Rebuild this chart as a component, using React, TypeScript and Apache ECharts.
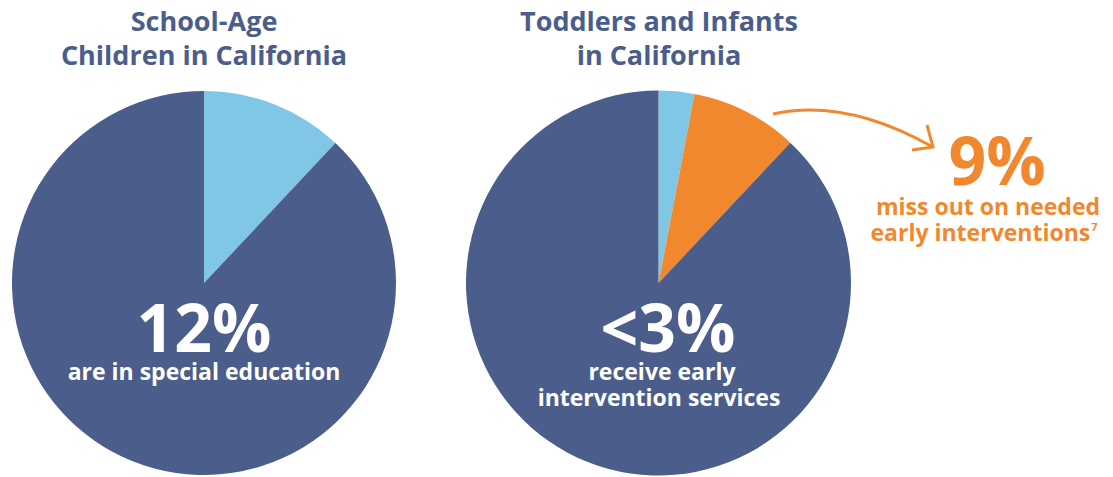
import React, { useEffect, useRef } from "react";
import * as echarts from "echarts";

const schoolCategories = ["In special education", "Not in special education"];
const schoolValues = [12, 88];
const toddlerCategories = [
  "Receive early intervention services",
  "Miss out on needed early interventions",
  "Others",
];
const toddlerValues = [3, 9, 88];

const schoolTitle = ["School-Age", "Children in California"];
const toddlerTitle = ["Toddlers and Infants", "in California"];
const schoolBig = "12%";
const schoolSub = ["are in special education"];
const toddlerBig = "<3%";
const toddlerSub = ["receive early", "intervention services"];
const missBig = "9%";
const missSub = ["miss out on needed", "early interventions"];
const footnote = "7";

const DARK = "#4B5E8B";
const LIGHT = "#80C6E5";
const ORANGE = "#F1882D";
const FONT = "'Open Sans', sans-serif";

export default function App() {
  const ref = useRef<HTMLDivElement>(null);
  useEffect(() => {
    if (!ref.current) return;
    const chart = echarts.init(ref.current, null, { renderer: "svg" });
    const txt = (
      text: string,
      x: number,
      y: number,
      size: number,
      color: string,
      lh: number
    ) => ({
      type: "text",
      x,
      y,
      z: 100,
      silent: true,
      style: {
        text,
        fill: color,
        fontFamily: FONT,
        fontWeight: 700,
        fontSize: size,
        lineHeight: lh,
        align: "center",
        verticalAlign: "middle",
      },
    });
    chart.setOption({
      animation: false,
      backgroundColor: "#ffffff",
      series: [
        {
          type: "pie",
          center: [204, 283],
          radius: [0, 192],
          startAngle: 90,
          clockwise: true,
          silent: true,
          label: { show: false },
          labelLine: { show: false },
          itemStyle: { borderWidth: 0 },
          data: schoolCategories.map((name, i) => ({
            name,
            value: schoolValues[i],
            itemStyle: { color: [LIGHT, DARK][i] },
          })),
        },
        {
          type: "pie",
          center: [658.5, 283],
          radius: [0, 192.5],
          startAngle: 90,
          clockwise: true,
          silent: true,
          label: { show: false },
          labelLine: { show: false },
          itemStyle: { borderWidth: 0 },
          data: toddlerCategories.map((name, i) => ({
            name,
            value: toddlerValues[i],
            itemStyle: { color: [LIGHT, ORANGE, DARK][i] },
          })),
        },
      ],
      graphic: [
        txt(schoolTitle[0], 204, 20, 27, DARK, 28),
        txt(schoolTitle[1], 204, 54, 27, DARK, 28),
        txt(toddlerTitle[0], 659, 20, 27, DARK, 28),
        txt(toddlerTitle[1], 659, 54, 27, DARK, 28),
        txt(schoolBig, 204, 326, 66, "#ffffff", 52),
        txt(schoolSub[0], 204, 371, 23, "#ffffff", 22),
        txt(toddlerBig, 668, 326, 66, "#ffffff", 52),
        txt(toddlerSub[0], 662, 371, 23, "#ffffff", 22),
        txt(toddlerSub[1], 659, 397, 23, "#ffffff", 22),
        txt(missBig, 997, 159, 66, ORANGE, 50),
        txt(missSub[0], 988, 206, 23, ORANGE, 22),
        {
          type: "text",
          x: 984,
          y: 232,
          z: 100,
          silent: true,
          style: {
            text: `{a|${missSub[1]}}{s|${footnote}}`,
            align: "center",
            verticalAlign: "middle",
            rich: {
              a: { fontFamily: FONT, fontWeight: 700, fontSize: 23, lineHeight: 22, fill: ORANGE, color: ORANGE },
              s: {
                fontFamily: FONT,
                fontWeight: 700,
                fontSize: 11,
                lineHeight: 12,
                fill: ORANGE,
                color: ORANGE,
                verticalAlign: "top",
                padding: [0, 0, 0, 1],
              },
            },
          },
        },
        {
          type: "bezierCurve",
          z: 100,
          silent: true,
          shape: { x1: 773, y1: 114, cpx1: 845, cpy1: 98, x2: 931, y2: 146 },
          style: { stroke: ORANGE, lineWidth: 3, fill: "none" },
        },
        {
          type: "polyline",
          z: 100,
          silent: true,
          shape: { points: [[927, 125], [933, 147], [912, 150]] },
          style: { stroke: ORANGE, lineWidth: 3, fill: "none", lineJoin: "miter" },
        },
      ],
    });
    return () => chart.dispose();
  }, []);
  return (
    <div
      ref={ref}
      style={{ position: "fixed", left: 0, top: 0, width: 1113, height: 477 }}
    />
  );
}
